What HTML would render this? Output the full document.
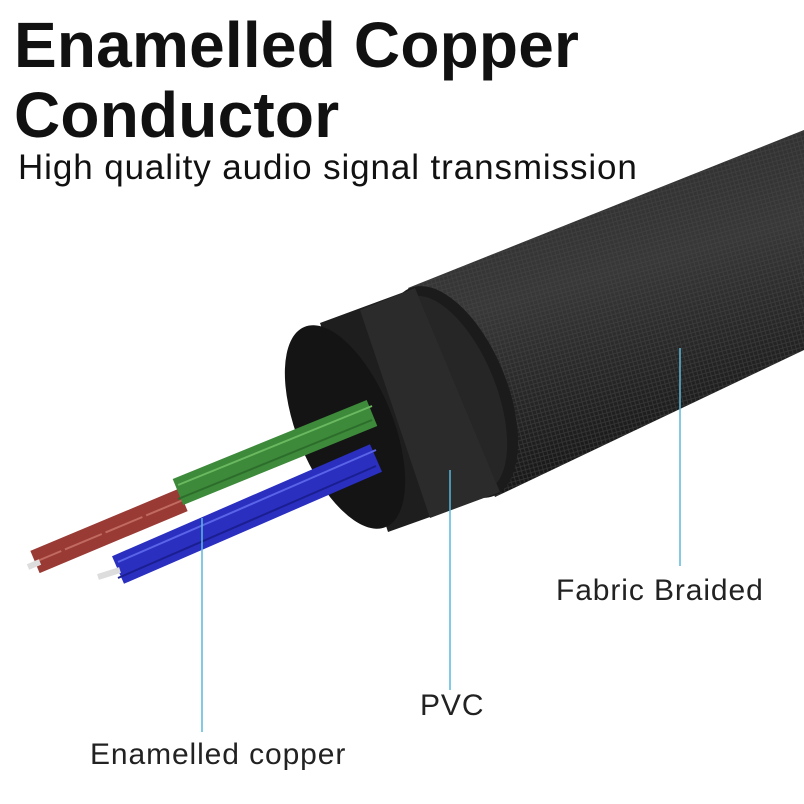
<!DOCTYPE html>
<html><head><style>
body{margin:0;width:804px;height:804px;background:#fff;overflow:hidden;font-family:"Liberation Sans",sans-serif;position:relative}
.t{position:absolute;left:14px;font-size:64px;font-weight:bold;color:#111;line-height:1;letter-spacing:0.2px}
.s{position:absolute;left:18px;top:148px;font-size:35px;color:#111;letter-spacing:0.9px}
.l{position:absolute;font-size:30px;color:#222;letter-spacing:0.9px}
</style></head><body>
<svg width="804" height="804" style="position:absolute;left:0;top:0">
<defs>
<linearGradient id="b" x1="0" y1="0" x2="0.3" y2="1">
<stop offset="0" stop-color="#2a2a2a"/><stop offset="0.5" stop-color="#383838"/><stop offset="1" stop-color="#151515"/></linearGradient>
<pattern id="w" width="6" height="6" patternUnits="userSpaceOnUse" patternTransform="rotate(30)">
<path d="M0 0L6 6M6 0L0 6" stroke="#474747" stroke-width="0.8"/></pattern>
</defs>
<polygon points="408,288 804,130 804,350 495,497" fill="url(#b)"/>
<polygon points="408,288 804,130 804,350 495,497" fill="url(#w)" opacity="0.6"/>
<ellipse cx="452" cy="392" rx="55" ry="112" transform="rotate(-22 452 392)" fill="#1b1b1b"/>
<ellipse cx="448" cy="394" rx="48" ry="104" transform="rotate(-22 448 394)" fill="#262626"/>
<polygon points="320,323 415,288 500,492 388,532" fill="#1e1e1e"/>
<polygon points="360,310 415,288 500,492 430,518" fill="#2b2b2b"/>
<ellipse cx="345" cy="427" rx="48" ry="108" transform="rotate(-22 345 427)" fill="#141414"/>
<g stroke-linecap="butt">
<line x1="183" y1="500" x2="35" y2="562" stroke="#9a3a35" stroke-width="24"/>
<line x1="183" y1="500" x2="35" y2="562" stroke="#c06a60" stroke-width="2" stroke-dasharray="40 4"/>
<line x1="40" y1="562" x2="28" y2="567" stroke="#ddd" stroke-width="6"/>
<line x1="372" y1="413" x2="178" y2="492" stroke="#3c8a3a" stroke-width="28"/>
<line x1="372" y1="406" x2="178" y2="485" stroke="#6ab85f" stroke-width="2"/>
<line x1="372" y1="420" x2="178" y2="499" stroke="#2d6d2c" stroke-width="2"/>
<line x1="376" y1="458" x2="118" y2="570" stroke="#2a2fc0" stroke-width="30"/>
<line x1="376" y1="450" x2="118" y2="562" stroke="#5a64e8" stroke-width="2"/>
<line x1="376" y1="466" x2="118" y2="578" stroke="#1a1e90" stroke-width="2"/>
<line x1="120" y1="570" x2="98" y2="577" stroke="#ddd" stroke-width="6"/>
</g>
<g stroke="#5bb8dc" stroke-width="1.5">
<line x1="202" y1="518" x2="202" y2="732"/>
<line x1="450" y1="470" x2="450" y2="690"/>
<line x1="680" y1="348" x2="680" y2="566"/>
</g>
</svg>
<div class="t" style="top:13px">Enamelled Copper</div>
<div class="t" style="top:83px">Conductor</div>
<div class="s">High quality audio signal transmission</div>
<div class="l" style="left:556px;top:574px">Fabric Braided</div>
<div class="l" style="left:420px;top:689px">PVC</div>
<div class="l" style="left:90px;top:738px">Enamelled copper</div>
</body></html>
